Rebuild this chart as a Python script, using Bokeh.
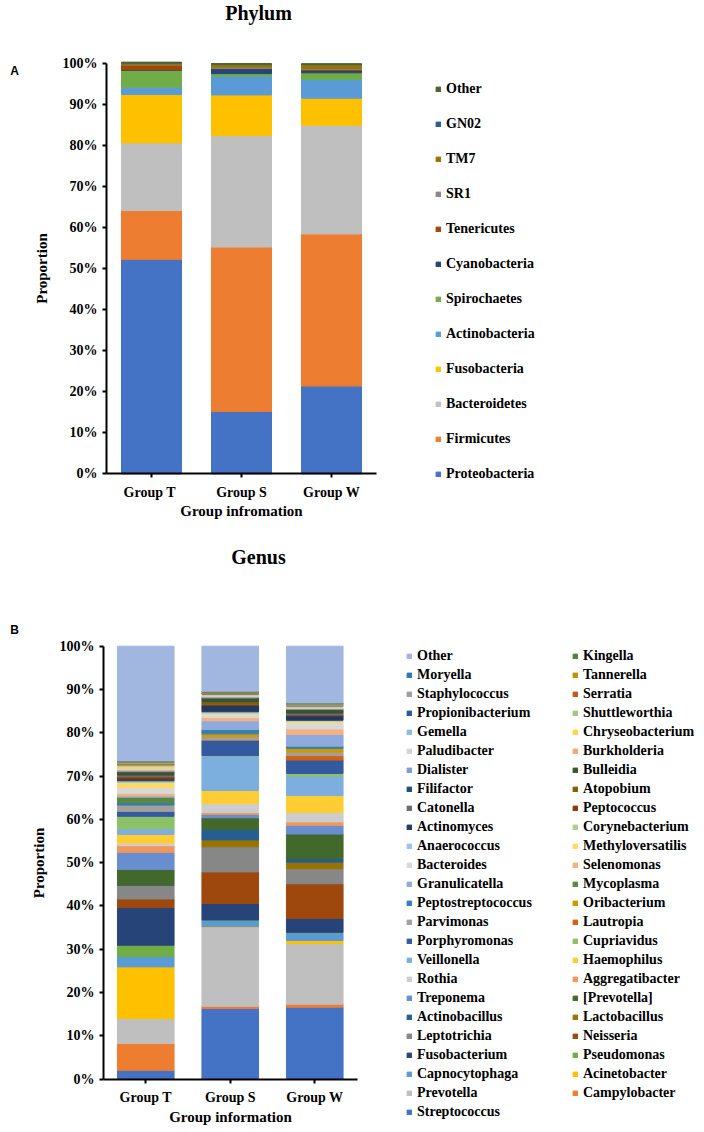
from bokeh.plotting import figure
from bokeh.models import (Range1d, Legend, LegendItem, Label, FixedTicker,
                          SingleIntervalTicker, PrintfTickFormatter, ColumnDataSource)
from bokeh.layouts import column
from bokeh.embed import file_html
from bokeh.resources import INLINE

# ---------------- data ----------------
phylum_groups = ["Group  T", "Group S", "Group W"]
phylum_names = ["Proteobacteria", "Firmicutes", "Bacteroidetes", "Fusobacteria",
                "Actinobacteria", "Spirochaetes", "Cyanobacteria", "Tenericutes",
                "SR1", "TM7", "GN02", "Other"]
phylum_T = [52.3, 11.9, 16.5, 11.8, 1.8, 4.1, 0.1, 1.2, 0.1, 0.4, 0.05, 0.15]
phylum_S = [15.2, 40.1, 27.2, 9.9, 4.6, 0.6, 1.2, 0.1, 0.3, 0.7, 0.05, 0.05]
phylum_W = [21.4, 37.1, 26.5, 6.6, 4.6, 1.6, 0.6, 0.2, 0.2, 1.0, 0.1, 0.1]
phylum_colors = ["#4472C4", "#ED7D31", "#BFBFBF", "#FFC000", "#5B9BD5", "#70AD47",
                 "#264478", "#9E480E", "#878787", "#997300", "#255E91", "#43682B"]

genus_groups = ["Group T", "Group S", "Group W"]
genus_names = ["Streptococcus", "Campylobacter", "Prevotella", "Acinetobacter",
               "Capnocytophaga", "Pseudomonas", "Fusobacterium", "Neisseria",
               "Leptotrichia", "Lactobacillus", "Actinobacillus", "[Prevotella]",
               "Treponema", "Aggregatibacter", "Rothia", "Haemophilus",
               "Veillonella", "Cupriavidus", "Porphyromonas", "Lautropia",
               "Parvimonas", "Oribacterium", "Peptostreptococcus", "Mycoplasma",
               "Granulicatella", "Selenomonas", "Bacteroides", "Methyloversatilis",
               "Anaerococcus", "Corynebacterium", "Actinomyces", "Peptococcus",
               "Catonella", "Atopobium", "Filifactor", "Bulleidia",
               "Dialister", "Burkholderia", "Paludibacter", "Chryseobacterium",
               "Gemella", "Shuttleworthia", "Propionibacterium", "Serratia",
               "Staphylococcus", "Tannerella", "Moryella", "Kingella", "Other"]
genus_T = [2.0, 6.2, 5.8, 11.9, 2.4, 2.6, 8.7, 2.0,
           3.1, 0.1, 0.1, 3.5, 4.0, 1.5, 0.6, 2.0,
           1.3, 2.9, 1.1, 0.05, 1.4, 0.05, 0.6, 1.2,
           0.3, 0.6, 1.3, 1.2, 0.2, 0.2, 0.4, 0.5,
           0.3, 0.2, 0.3, 0.4, 0.3, 0.2, 0.3, 0.5,
           0.2, 0.1, 0.1, 0.1, 0.3, 0.2, 0.1, 0.1, 26.5]
genus_S = [16.3, 0.5, 18.3, 0.1, 1.5, 0.05, 3.8, 7.3,
           5.8, 1.6, 2.4, 2.7, 0.8, 0.4, 2.1, 3.0,
           8.0, 0.1, 3.5, 0.1, 0.7, 0.7, 0.9, 0.1,
           2.0, 0.8, 0.8, 0.2, 0.2, 0.1, 1.4, 0.3,
           0.1, 0.6, 0.2, 0.6, 0.2, 0.2, 0.2, 0.1,
           0.1, 0.1, 0.2, 0.05, 0.2, 0.05, 0.05, 0.1, 10.4]
genus_W = [16.6, 0.7, 14.0, 0.7, 1.8, 0.1, 3.2, 8.0,
           3.5, 1.5, 0.8, 5.7, 2.0, 0.8, 2.2, 3.9,
           4.5, 0.6, 3.1, 1.0, 0.8, 0.9, 0.4, 0.1,
           2.7, 1.3, 1.4, 0.4, 0.1, 0.1, 1.0, 0.2,
           0.4, 0.1, 0.2, 0.6, 0.2, 0.1, 0.2, 0.1,
           0.1, 0.1, 0.1, 0.05, 0.3, 0.05, 0.1, 0.1, 13.1]
genus_colors = ["#4472C4", "#ED7D31", "#BFBFBF", "#FFC000", "#5B9BD5", "#70AD47",
                "#264478", "#9E480E", "#878787", "#997300", "#255E91", "#43682B",
                "#698ED0", "#F1975A", "#CDCDCD", "#FFCD33", "#7CAFDD", "#8CC168",
                "#335AA1", "#D26012", "#A0A0A0", "#CC9A00", "#327DC2", "#5A8A39",
                "#8FAADC", "#F4B183", "#D9D9D9", "#FFD966", "#9DC3E6", "#A9D18E",
                "#203864", "#843C0C", "#6E6E6E", "#7F6000", "#1F4E79", "#385723",
                "#7C9CD6", "#F3A676", "#D5D5D5", "#FFD34D", "#8DB9E2", "#9ECA80",
                "#2F5597", "#C55A11", "#9E9E9E", "#BF9000", "#2E75B6", "#548235",
                "#A2B7E0"]

FONT = "Liberation Serif"
W = 704


def build(groups, names, vals_by_group, colors, height, axis_px, cat_px,
          zero_px, full_px, bar_width, xlabel):
    """Frame covers the whole canvas; axes are pinned at x=0 / y=0."""
    keys = ["s%d" % i for i in range(len(names))]
    xs = [i + 0.5 for i in range(len(groups))]
    data = {"x": xs}
    for i, k in enumerate(keys):
        data[k] = [vals[i] for vals in vals_by_group]
    src = ColumnDataSource(data)
    ppu = (zero_px - full_px) / 100.0
    p = figure(x_range=Range1d(-axis_px / cat_px, (W - axis_px) / cat_px),
               y_range=Range1d((zero_px - height) / ppu, zero_px / ppu),
               width=W, height=height, output_backend="svg",
               toolbar_location=None, min_border=0, min_border_left=0,
               min_border_right=0, min_border_top=0, min_border_bottom=0)
    p.outline_line_color = None
    p.grid.visible = False
    rs = p.vbar_stack(keys, x="x", width=bar_width, color=colors, source=src)

    xa, ya = p.xaxis[0], p.yaxis[0]
    xa.fixed_location = 0
    ya.fixed_location = 0
    xa.bounds = (0, len(groups))
    ya.bounds = (0, 100)
    xa.ticker = FixedTicker(ticks=xs)
    xa.major_label_overrides = {x: g for x, g in zip(xs, groups)}
    ya.ticker = SingleIntervalTicker(interval=10)
    ya.formatter = PrintfTickFormatter(format="%d%%")
    for ax in (xa, ya):
        ax.axis_line_color = "black"
        ax.axis_line_width = 2
        ax.major_tick_line_color = "black"
        ax.major_tick_line_width = 2
        ax.major_tick_in = 0
        ax.major_tick_out = 4
        ax.minor_tick_line_color = None
        ax.major_label_text_font = FONT
        ax.major_label_text_font_style = "bold"
        ax.major_label_text_font_size = "14px"
        ax.major_label_text_color = "black"
        ax.axis_label_text_font = FONT
        ax.axis_label_text_font_style = "bold"
        ax.axis_label_text_font_size = "15px"
        ax.axis_label_text_color = "black"
    ya.axis_label = "Proportion"
    ya.major_label_standoff = 5
    ya.axis_label_standoff = 10
    xa.axis_label = xlabel
    xa.major_label_standoff = 7
    xa.axis_label_standoff = 0
    return p, rs


def legend(items, x, y, label_height, spacing):
    return Legend(items=items, location=(x, y), orientation="vertical",
                  glyph_width=6, glyph_height=6, label_standoff=5,
                  label_height=label_height, spacing=spacing, padding=0, margin=0,
                  border_line_color=None, background_fill_alpha=0,
                  label_text_font=FONT, label_text_font_style="bold",
                  label_text_font_size="14px", label_text_color="black")


def label(text, x, y, size, font=FONT):
    return Label(x=x, y=y, x_units="screen", y_units="screen", text=text,
                 text_font=font, text_font_style="bold", text_font_size=size,
                 text_align="center", text_baseline="middle", text_color="black")


# ---------------- Phylum panel (canvas 0..520) ----------------
H1 = 520
p1, r1 = build(phylum_groups, phylum_names, [phylum_T, phylum_S, phylum_W],
               phylum_colors, H1, 106, 90, 473.3, 63.3, 0.667, "Group infromation")
items1 = [LegendItem(label=n, renderers=[r]) for n, r in zip(phylum_names, r1)][::-1]
p1.add_layout(legend(items1, 435, H1 - 484.5, 21, 14))
p1.add_layout(label("Phylum", 258, H1 - 12, "20px"))
p1.add_layout(label("A", 14, H1 - 70, "12px", "Liberation Sans"))

# ---------------- Genus panel (canvas 520..1132) ----------------
H2 = 612
TOP2 = 520
p2, r2 = build(genus_groups, genus_names, [genus_T, genus_S, genus_W],
               genus_colors, H2, 103, 84.5, 1078.5 - TOP2, 645.7 - TOP2, 0.67,
               "Group information")
items2 = [LegendItem(label=n, renderers=[r]) for n, r in zip(genus_names, r2)][::-1]
left_items = items2[0::2]
right_items = items2[1::2]
leg_top = 655.7 - 9.5 - TOP2
p2.add_layout(legend(left_items, 406, H2 - (leg_top + 19 * len(left_items)), 19, 0))
p2.add_layout(legend(right_items, 572, H2 - (leg_top + 19 * len(right_items)), 19, 0))
p2.add_layout(label("Genus", 258, H2 - (556 - TOP2), "20px"))
p2.add_layout(label("B", 14, H2 - (629 - TOP2), "12px", "Liberation Sans"))

layout = column(p1, p2, spacing=0)
open("out.html", "w").write(file_html(layout, INLINE))
